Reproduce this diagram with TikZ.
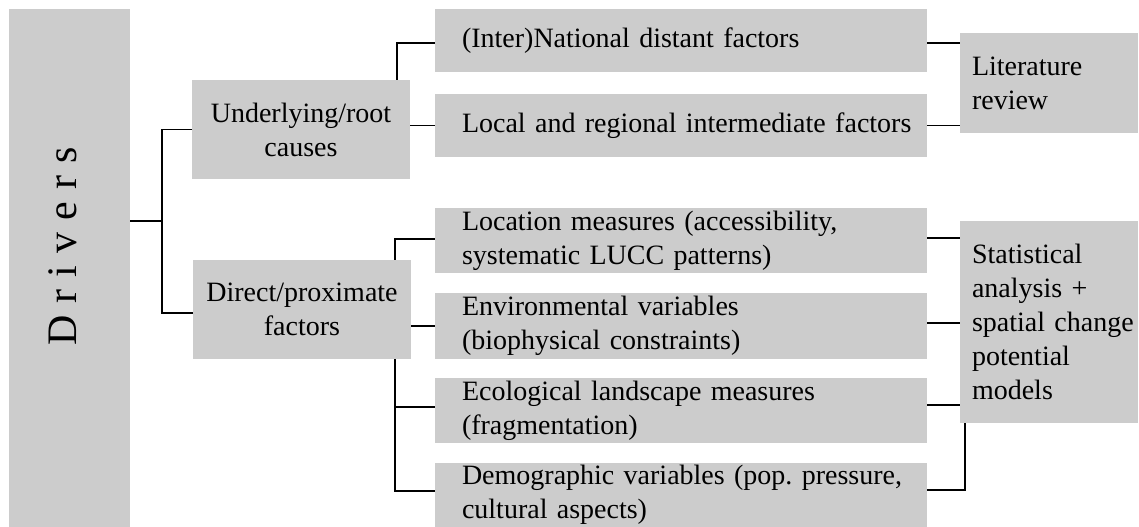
\documentclass[tikz,border=0pt]{standalone}
\usepackage{fontspec}
\setmainfont{Liberation Serif}
\usetikzlibrary{calc}
\definecolor{boxgray}{HTML}{CCCCCC}
\frenchspacing
\begin{document}
\begin{tikzpicture}[x=1bp,y=-1bp,
  box/.style={fill=boxgray, draw=none, inner sep=0pt, outer sep=0pt,
    font=\fontsize{28bp}{34bp}\selectfont},
  sidebox/.style={box, minimum width=218bp, minimum height=99bp, align=center},
  midbox/.style={box, minimum width=492bp, text width=438bp, align=left},
  rightbox/.style={box, minimum width=178bp, text width=154bp, align=left},
  conn/.style={draw=black, line width=1.5bp}
]
\useasboundingbox (0,0) rectangle (1139,527);

% boxes
\node[box, minimum width=121bp, minimum height=518bp] (drivers) at (69.5,268) {};
\node[rotate=90, inner sep=0pt, font=\fontsize{42bp}{50bp}\selectfont] (drvtext) at (63,246.5)
  {D\kern12bp r\kern12bp i\kern12bp v\kern12bp e\kern12bp r\kern12bp s};

\node[sidebox] (under) at (301,129.5) {Underlying/root\\causes};
\node[sidebox] (direct) at (302,309.5) {Direct/proximate\\factors};

\node[midbox, minimum height=63bp] (nat) at (681,40.5) {\mbox{(Inter)National distant factors}};
\node[midbox, minimum height=63bp] (local) at (681,125.5) {\mbox{Local and regional intermediate factors}};
\node[midbox, minimum height=65bp] (loc) at (681,240.5) {\mbox{Location measures (accessibility,}\\\mbox{systematic LUCC patterns)}};
\node[midbox, minimum height=66bp] (env) at (681,326) {\mbox{Environmental variables}\\\mbox{(biophysical constraints)}};
\node[midbox, minimum height=65bp] (eco) at (681,410.5) {\mbox{Ecological landscape measures}\\\mbox{(fragmentation)}};
\node[midbox, minimum height=64bp] (demo) at (681,495) {\mbox{Demographic variables (pop. pressure,}\\\mbox{cultural aspects)}};

\node[rightbox, minimum height=100bp] (lit) at (1049,83) {Literature\\review};
\node[rightbox, minimum height=202bp] (stat) at (1049,322) {Statistical\\analysis +\\\mbox{spatial change}\\potential\\models};

% connection points
\coordinate (j0) at (162,221);
\coordinate (dirW) at ([yshift=-3.5bp]direct.west);
\coordinate (natW) at ([yshift=-2.5bp]nat.west);
\coordinate (natE) at ([yshift=-2.5bp]nat.east);
\coordinate (locW) at ([yshift=1.5bp]loc.west);
\coordinate (locE) at ([yshift=2.5bp]loc.east);
\coordinate (envE) at ([yshift=3bp]env.east);
\coordinate (ecoW) at ([yshift=3.5bp]eco.west);
\coordinate (ecoE) at ([yshift=5.5bp]eco.east);
\coordinate (demoW) at ([yshift=4bp]demo.west);
\coordinate (demoE) at ([yshift=5bp]demo.east);
\coordinate (uTop) at ($(under.north east)+(-13,0)$);
\coordinate (dTop) at ($(direct.north east)+(-16,0)$);
\coordinate (dBot) at ($(direct.south east)+(-16,0)$);
\coordinate (sBot) at ($(stat.south west)+(5,0)$);

% connectors
\draw[conn] (drivers.east |- j0) -- (j0);
\draw[conn] (under.west) -| (j0) |- (dirW);
\draw[conn] (uTop) |- (natW);
\draw[conn] (under.east |- local.west) -- (local.west);
\draw[conn] (dTop) |- (locW);
\draw[conn] (direct.east |- env.west) -- (env.west);
\draw[conn] (dBot) |- (ecoW);
\draw[conn] (dBot) |- (demoW);

\draw[conn] (natE) -- (natE -| lit.west);
\draw[conn] (local.east) -- (local.east -| lit.west);
\draw[conn] (locE) -- (locE -| stat.west);
\draw[conn] (envE) -- (envE -| stat.west);
\draw[conn] (ecoE) -- (ecoE -| stat.west);
\draw[conn] (demoE) -| (sBot);
\end{tikzpicture}
\end{document}
